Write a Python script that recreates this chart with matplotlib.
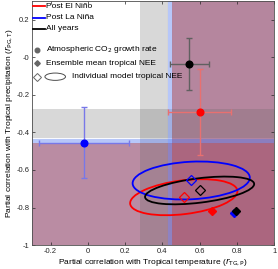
import numpy as np
import matplotlib.pyplot as plt
from matplotlib.patches import Ellipse, Rectangle

plt.rcParams['font.family'] = ['Liberation Sans', 'DejaVu Sans']
plt.rcParams['axes.unicode_minus'] = False

# groups
names = ['Post El Niño', 'Post La Niña', 'All years']
colors = ['red', 'blue', 'black']
bar_colors = ['#e87070', '#7878e8', '#606060']

# atmospheric CO2 growth rate partial correlations (x = temperature, y = precipitation)
obs_x = [0.60, -0.02, 0.545]
obs_y = [-0.29, -0.455, -0.035]
obs_xerr = [0.17, 0.24, 0.105]
obs_yerr = [0.23, 0.19, 0.14]

# ensemble mean tropical NEE
ens_x = [0.665, 0.785, 0.795]
ens_y = [-0.82, -0.83, -0.82]

# individual model tropical NEE (mean and spread ellipse)
mod_x = [0.515, 0.555, 0.60]
mod_y = [-0.745, -0.656, -0.709]
ell_w = [0.58, 0.63, 0.59]
ell_h = [0.18, 0.20, 0.13]
ell_ang = [7, 3, 7]

# significance thresholds
gray_x = (0.28, 0.43)
gray_y = (-0.43, -0.275)
sig_x = 0.44
sig_y = -0.445

fig = plt.figure(figsize=(2.78, 2.69), dpi=100)
ax = fig.add_axes([0.115, 0.089, 0.871, 0.907])
ax.set_xlim(-0.3, 1)
ax.set_ylim(-1, 0.3)

# shaded regions
ax.axvspan(sig_x + 0.01, 1, color='#b5869e', lw=0, zorder=0)
ax.axhspan(-1, sig_y - 0.01, color='#ba8ca3', lw=0, zorder=0)
ax.add_patch(Rectangle((sig_x + 0.01, -1), 1 - sig_x, sig_y + 0.99, color='#ab667f', lw=0, zorder=0))
ax.axvspan(*gray_x, color='0.4', alpha=0.25, lw=0, zorder=0.5)
ax.axhspan(*gray_y, color='0.4', alpha=0.25, lw=0, zorder=0.5)
ax.axvline(sig_x, color=(0.3, 0.45, 0.95), alpha=0.4, lw=3, zorder=1)
ax.axhline(sig_y, color=(0.3, 0.45, 0.95), alpha=0.4, lw=3, zorder=1)

for i in range(3):
    e = Ellipse((mod_x[i], mod_y[i]), ell_w[i], ell_h[i], angle=ell_ang[i],
                fill=False, ec=colors[i], lw=1.3, zorder=3)
    ax.add_patch(e)
    ax.plot(mod_x[i], mod_y[i], 'D', mfc='none', mec=colors[i], ms=5, mew=0.9, zorder=4)
    ax.errorbar(obs_x[i], obs_y[i], xerr=obs_xerr[i], yerr=obs_yerr[i], fmt='none',
                ecolor=bar_colors[i], elinewidth=1, capsize=2.5, capthick=1, zorder=4)
    ax.plot(obs_x[i], obs_y[i], 'o', color=colors[i], ms=4.8, zorder=5)
for i in [0, 1, 2]:
    ax.plot(ens_x[i], ens_y[i], 'D', color=colors[i], ms=3.6, zorder=5)

ax.set_xticks(np.arange(-0.2, 1.01, 0.2))
ax.set_yticks(np.arange(-1, 0.21, 0.2))
ax.set_xticklabels(['%g' % round(v, 1) for v in ax.get_xticks()])
ax.set_yticklabels(['%g' % round(v, 1) for v in ax.get_yticks()])
ax.tick_params(direction='in', length=2, width=0.5, labelsize=5.5, top=True, right=True, pad=2,
               colors='0.15')
for s in ax.spines.values():
    s.set_color('0.3')
    s.set_linewidth(0.6)
ax.set_xlabel('Partial correlation with Tropical temperature ($r_{\\mathrm{TG,P}}$)', fontsize=6, labelpad=1)
ax.set_ylabel('Partial correlation with Tropical precipitation ($r_{\\mathrm{PG,T}}$)', fontsize=6, labelpad=1)

# legend (drawn by hand)
fs = 6.0
for i in range(3):
    yy = 0.978 - i * 0.046
    ax.plot([0.003, 0.052], [yy, yy], transform=ax.transAxes, color=colors[i], lw=1.3, zorder=6)
    ax.text(0.058, yy, names[i], transform=ax.transAxes, fontsize=fs, va='center', zorder=6)
ax.plot(0.022, 0.80, 'o', transform=ax.transAxes, color='0.4', ms=3.3, zorder=6)
ax.text(0.058, 0.80, 'Atmospheric CO$_2$ growth rate', transform=ax.transAxes, fontsize=fs, va='center', zorder=6)
ax.plot(0.022, 0.745, 'D', transform=ax.transAxes, color='0.4', ms=2.8, zorder=6)
ax.text(0.058, 0.745, 'Ensemble mean tropical NEE', transform=ax.transAxes, fontsize=fs, va='center', zorder=6)
ax.plot(0.022, 0.69, 'D', transform=ax.transAxes, mfc='none', mec='0.4', ms=4, mew=0.7, zorder=6)
ax.add_patch(Ellipse((0.096, 0.69), 0.085, 0.03, transform=ax.transAxes, fill=False, ec='0.3', lw=0.7, zorder=6))
ax.text(0.167, 0.69, 'Individual model tropical NEE', transform=ax.transAxes, fontsize=fs, va='center', zorder=6)

fig.savefig('out.png', dpi=100)
